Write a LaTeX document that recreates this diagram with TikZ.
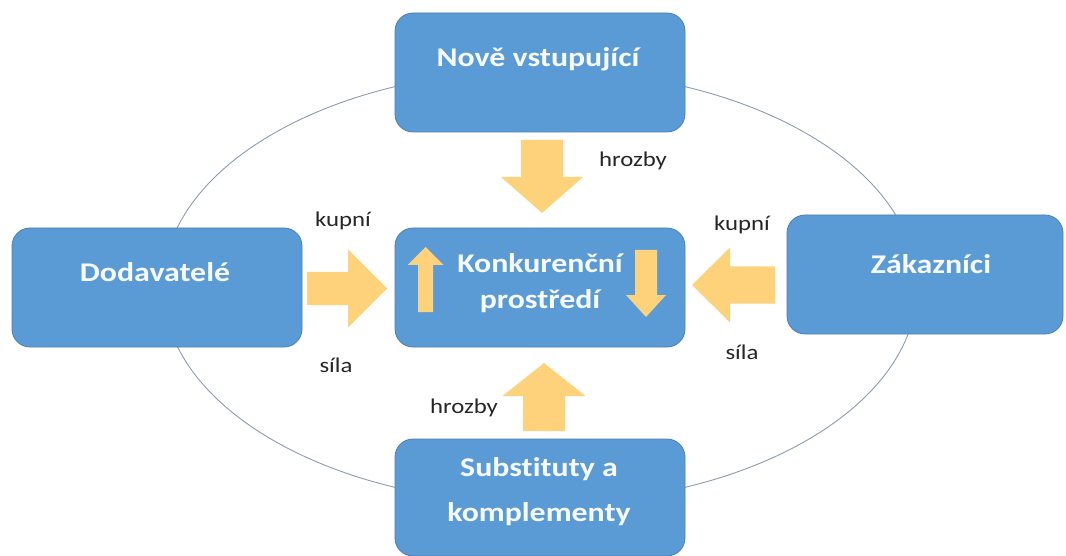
\documentclass[tikz,border=0pt]{standalone}
\usepackage{fontspec}
\setmainfont[FakeStretch=1.18, Ligatures=NoCommon]{Carlito}
\definecolor{boxblue}{HTML}{5B9BD5}
\definecolor{boxline}{HTML}{4A7DB3}
\definecolor{arrowgold}{HTML}{FDD27A}
\definecolor{ringgray}{HTML}{8D9BAD}
\tikzstyle{box}=[draw=boxline, fill=boxblue, rounded corners=18pt, line width=0.8pt, minimum width=290pt, minimum height=119pt]
\tikzstyle{boxtext}=[text=white!95!boxblue, font=\bfseries\fontsize{27}{36}\selectfont, align=center, inner sep=0pt]
\tikzstyle{tag}=[text=black!85, font=\fontsize{21}{24}\selectfont, inner sep=0pt]
% fat arrow: tail point, angle, length, shaft half, head half, head length
\newcommand{\fatarrow}[6]{%
  \fill[arrowgold, shift={#1}, rotate=#2] (0,-#4) -- ({#3-#6},-#4) -- ({#3-#6},-#5)
    -- (#3,0) -- ({#3-#6},#5) -- ({#3-#6},#4) -- (0,#4) -- cycle;}

\begin{document}
\begin{tikzpicture}[x=1pt, y=-1pt]
\useasboundingbox (0,0) rectangle (1066,556);
\draw[ringgray, line width=0.9pt] (540,287) ellipse [x radius=377pt, y radius=217pt];

% the five forces
\node[box] (new)   at (540,72.5)  {};
\node[box] (sup)   at (157,287.5) {};
\node[box, minimum width=276pt] (cust) at (925,274.5) {};
\node[box] (core)  at (540,287.5) {};
\node[box, minimum height=117pt] (subst) at (540,497.5) {};

\node[boxtext, anchor=base] (newtext)  at (538,67)  {Nově vstupující};
\node[boxtext, anchor=base] (suptext)  at (155,281) {Dodavatelé};
\node[boxtext, anchor=base] (custtext) at (931,273) {Zákazníci};
\node[boxtext] (coretext) at (540,283) {Konkurenční\\prostředí};
\node[boxtext, font=\bfseries\fontsize{27}{45}\selectfont] (substtext) at (539,492) {Substituty a\\komplementy};

% arrows
\fatarrow{(542,140)}{-90}{73}{21}{41}{36}
\fatarrow{(544,431)}{90}{68}{21}{41.5}{33}
\fatarrow{(307,288.5)}{0}{80}{16.5}{39}{39}
\fatarrow{(775,285)}{180}{83}{18.5}{37.5}{38}
\fatarrow{(425.5,312)}{90}{65}{7.5}{18}{18}
\fatarrow{(646,250)}{-90}{67}{11}{20}{22}

% labels
\node[tag] (threat1) at (633,161) {hrozby};
\node[tag] (threat2) at (464,408) {hrozby};
\node[tag] (buy1)    at (343,221) {kupní};
\node[tag] (force1)  at (336,365) {síla};
\node[tag] (buy2)    at (742,225) {kupní};
\node[tag] (force2)  at (742,352) {síla};
\end{tikzpicture}
\end{document}
